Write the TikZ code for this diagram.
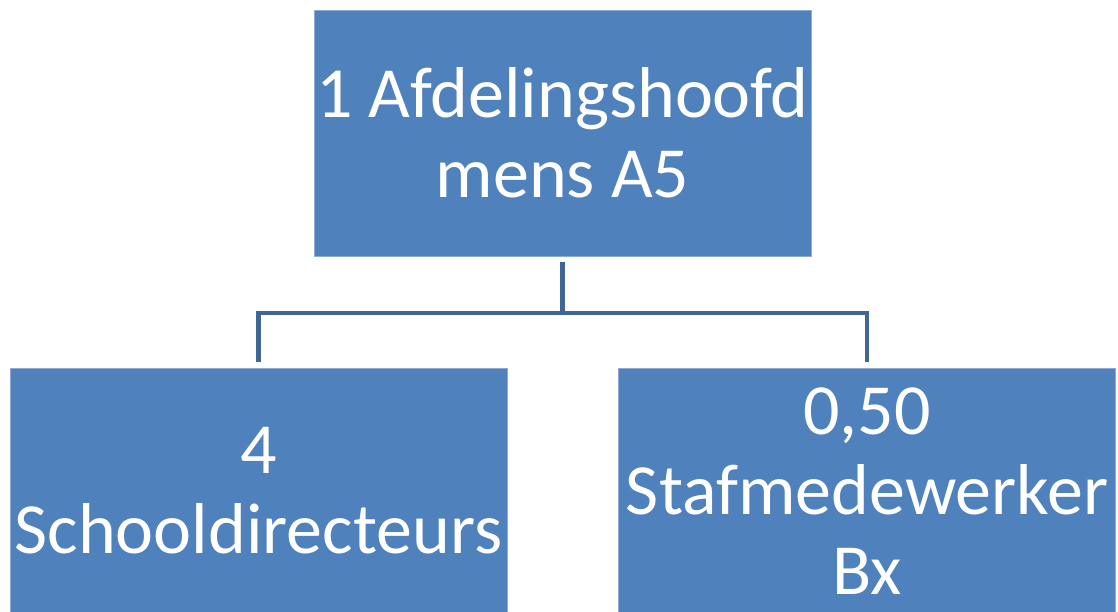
\documentclass[tikz,border=0pt]{standalone}
\usepackage{fontspec}
\setmainfont{Carlito}
\usetikzlibrary{calc}
\definecolor{boxfill}{HTML}{4F81BD}
\definecolor{boxedge}{HTML}{8EA9D3}
\definecolor{connc}{RGB}{64,102,150}
\tikzset{
  orgbox/.style={rectangle, fill=boxfill, draw=boxedge, line width=0.6pt,
    minimum width=497pt, minimum height=246pt, inner sep=0pt,
    text=white, align=center, font=\fontsize{72}{80}\selectfont},
  conn/.style={draw=connc, line width=4.5pt, line join=miter}
}
\begin{document}
\begin{tikzpicture}[x=1pt,y=-1pt]
\useasboundingbox (0,0) rectangle (1118,612);
\clip (0,0) rectangle (1118,612);
\fill[white] (0,0) rectangle (1118,612);
\node[orgbox] (top) at (562.5,133) {1 Afdelingshoofd\\mens A5};
\node[orgbox] (left) at (258.5,491) {4\\Schooldirecteurs};
\node[orgbox] (right) at (867,491) {0,50\\Stafmedewerker\\Bx};
\coordinate (bus) at (0,313);
\draw[conn] ([yshift=-6pt]top.south) -- (top.south |- bus);
\draw[conn] ([yshift=6pt]left.north) |- (bus -| right.north) -- ([yshift=6pt]right.north);
\end{tikzpicture}
\end{document}
